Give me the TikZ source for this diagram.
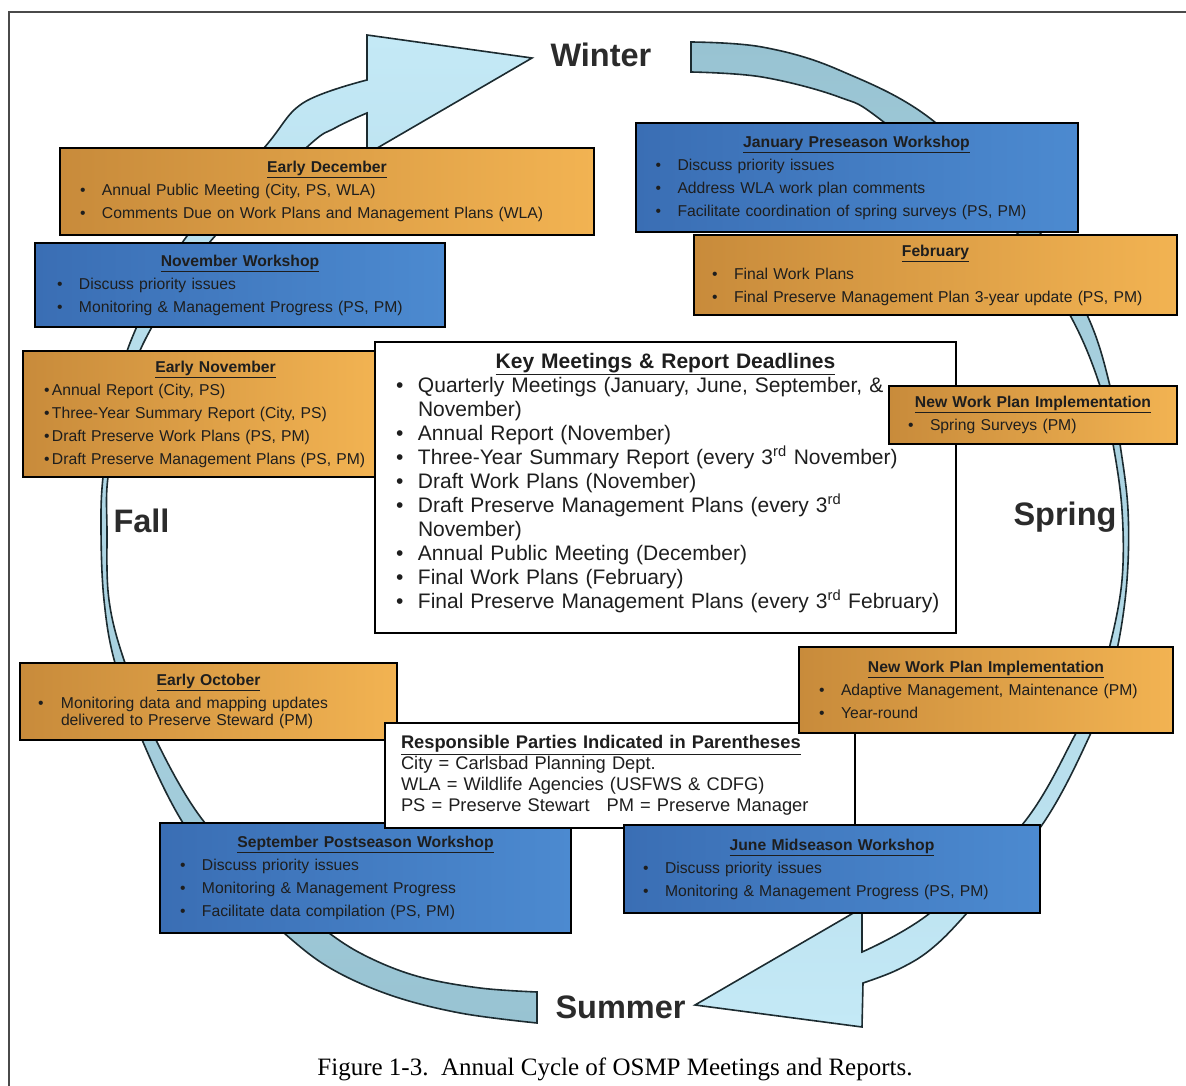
\documentclass[tikz,border=0pt]{standalone}
\usepackage{fontspec}
\setmainfont{Liberation Sans}
\newfontfamily\capfont{Liberation Serif}

\definecolor{orgL}{HTML}{C88B3B}
\definecolor{orgR}{HTML}{F2B352}
\definecolor{bluL}{HTML}{3A6EB4}
\definecolor{bluR}{HTML}{4C8AD0}
\definecolor{bandLt}{HTML}{C4E9F6}
\definecolor{bandDk}{HTML}{98C3D2}
\definecolor{bandline}{HTML}{1C2B30}
\definecolor{inktext}{HTML}{1E1E1E}
\definecolor{seasongray}{HTML}{2B2B2B}
\definecolor{framegray}{HTML}{4A4A4A}

\newcommand{\boxtitle}[2][0pt]{\makebox[\linewidth][c]{\hspace*{#1}\underline{\textbf{#2}}}\par}
\newcommand{\bul}[2][22pt]{\par\noindent\makebox[#1][l]{\textbullet}\mbox{#2}}
\newcommand{\cont}[2][22pt]{\par\noindent\hspace*{#1}\mbox{#2}}

\tikzset{
  box/.style={rectangle, draw=black, line width=2pt, inner sep=0pt, align=left,
    text=inktext, font=\fontsize{15.7}{23}\selectfont},
  obox/.style={box, left color=orgL, right color=orgR},
  bbox/.style={box, left color=bluL, right color=bluR},
  wbox/.style={box, fill=white},
  band/.style={draw=bandline, line width=1.6pt},
  season/.style={text=seasongray, anchor=base west, font=\fontsize{32.5}{36}\selectfont\bfseries},
}

\begin{document}
\begin{tikzpicture}[x=1pt, y=-1pt]

  \useasboundingbox (0,0) rectangle (1186,1086);
  \draw[framegray, line width=2pt] (9,1090) -- (9,12) -- (1190,12);

  % the two curved arrows of the year
  \path[band, top color=bandLt, bottom color=bandDk]
    (537,992) -- (537,1023)
    -- plot[smooth, tension=0.6] coordinates {(537,1023) (460,1013) (390,995) (330,968)
         (284,933) (230,882) (183,823) (143,742) (115,663) (104,600) (101,530) (103,477)
         (113,410) (132,338) (182,243) (264,148) (303,103) (367,80)}
    -- (367,35) -- (532,58) -- (367,154) -- (367,113)
    -- plot[smooth, tension=0.6] coordinates {(367,113) (335,128) (306,148) (209,243)
         (146,338) (122,410) (108,477) (107,530) (109,600) (125,663) (157,742) (205,823)
         (270,885) (329,933) (370,958) (420,977) (480,988) (537,992)}
    -- cycle;

  \path[band, top color=bandDk, bottom color=bandLt]
    (691,72) -- (691,42)
    -- plot[smooth, tension=0.6] coordinates {(691,42) (762,47) (839,70) (936,123)
         (1041,234) (1088,317) (1110,386) (1120,444) (1128,510) (1127,580) (1118,645)
         (1105,690) (1090,735) (1042,825) (967,913) (930,950) (897,970) (863,983)}
    -- (862,1027) -- (695,1005) -- (862,908) -- (862,952)
    -- plot[smooth, tension=0.6] coordinates {(862,952) (930,913) (1022,825) (1075,735)
         (1095,690) (1110,645) (1122,580) (1122,510) (1113,444) (1100,386) (1071,317)
         (1018,234) (885,123) (839,97) (762,77) (691,72)}
    -- cycle;

  % seasons
  \node[season] (winter) at (547,67)   {Winter};
  \node[season] (spring) at (1010,525) {Spring};
  \node[season] (fall)   at (110,532)  {Fall};
  \node[season] (summer) at (552,1018) {Summer};

  % boxes round the cycle
  \node[obox, minimum width=534pt, minimum height=87pt, text width=494pt] (dec) at (327,191.5)
    {\boxtitle{Early December}
     \bul{Annual Public Meeting (City, PS, WLA)}
     \bul{Comments Due on Work Plans and Management Plans (WLA)}};
  \node[bbox, minimum width=410pt, minimum height=84pt, text width=366pt] (novws) at (240,285)
    {\boxtitle{November Workshop}
     \bul{Discuss priority issues}
     \bul{Monitoring \& Management Progress (PS, PM)}};
  \node[obox, minimum width=353pt, minimum height=126pt, text width=311pt] (enov) at (199.5,414)
    {\boxtitle[32pt]{Early November}
     \bul[8pt]{Annual Report (City, PS)}
     \bul[8pt]{Three-Year Summary Report (City, PS)}
     \bul[8pt]{Draft Preserve Work Plans (PS, PM)}
     \bul[8pt]{Draft Preserve Management Plans (PS, PM)}};
  \node[bbox, minimum width=442pt, minimum height=109pt, text width=402pt] (jan) at (856.5,177.5)
    {\boxtitle{January Preseason Workshop}
     \bul{Discuss priority issues}
     \bul{Address WLA work plan comments}
     \bul{Facilitate coordination of spring surveys (PS, PM)}};
  \node[obox, minimum width=483pt, minimum height=80pt, text width=447pt] (feb) at (935.5,275)
    {\boxtitle{February}
     \bul{Final Work Plans}
     \bul{Final Preserve Management Plan 3-year update (PS, PM)}};

  \node[wbox, minimum width=581pt, minimum height=291pt, text width=539pt,
        font=\fontsize{21}{24}\selectfont] (key) at (665.5,487.5)
    {\boxtitle{Key Meetings \& Report Deadlines}
     \bul{Quarterly Meetings (January, June, September, \&}
     \cont{November)}
     \bul{Annual Report (November)}
     \bul{Three-Year Summary Report (every 3\textsuperscript{rd} November)}
     \bul{Draft Work Plans (November)}
     \bul{Draft Preserve Management Plans (every 3\textsuperscript{rd}}
     \cont{November)}
     \bul{Annual Public Meeting (December)}
     \bul{Final Work Plans (February)}
     \bul{Final Preserve Management Plans (every 3\textsuperscript{rd} February)}
     \par\vspace*{9pt}};

  \node[obox, minimum width=288pt, minimum height=58pt, text width=250pt] (nwpa) at (1033,415)
    {\boxtitle{New Work Plan Implementation}
     \bul{Spring Surveys (PM)}};
  \node[obox, minimum width=377pt, minimum height=77pt, text width=341pt] (eoct) at (208.5,701.5)
    {\boxtitle{Early October}
     \bul[23pt]{Monitoring data and mapping updates}
     \par\vspace{-6pt}
     \cont[23pt]{delivered to Preserve Steward (PM)}};
  \node[bbox, minimum width=411pt, minimum height=110pt, text width=371pt] (sep) at (365.5,878)
    {\boxtitle{September Postseason Workshop}
     \bul{Discuss priority issues}
     \bul{Monitoring \& Management Progress}
     \bul{Facilitate data compilation (PS, PM)}};

  \node[wbox, minimum width=470pt, minimum height=105pt, text width=438pt,
        font=\fontsize{18.3}{21}\selectfont] (resp) at (620,775.5)
    {\underline{\textbf{Responsible Parties Indicated in Parentheses}}\par
     City = Carlsbad Planning Dept.\par
     WLA = Wildlife Agencies (USFWS \& CDFG)\par
     PS = Preserve Stewart\hspace{17pt}PM = Preserve Manager};

  \node[obox, minimum width=374pt, minimum height=86pt, text width=334pt] (nwpb) at (986,690)
    {\boxtitle{New Work Plan Implementation}
     \bul{Adaptive Management, Maintenance (PM)}
     \bul{Year-round}};
  \node[bbox, minimum width=416pt, minimum height=88pt, text width=378pt] (jun) at (832,869)
    {\boxtitle{June Midseason Workshop}
     \bul{Discuss priority issues}
     \bul{Monitoring \& Management Progress (PS, PM)}};

  % caption
  \node[anchor=base, text=black, font=\capfont\fontsize{25}{28}\selectfont] (cap) at (615,1075)
    {Figure 1-3.\ \ Annual Cycle of OSMP Meetings and Reports.};

\end{tikzpicture}
\end{document}
